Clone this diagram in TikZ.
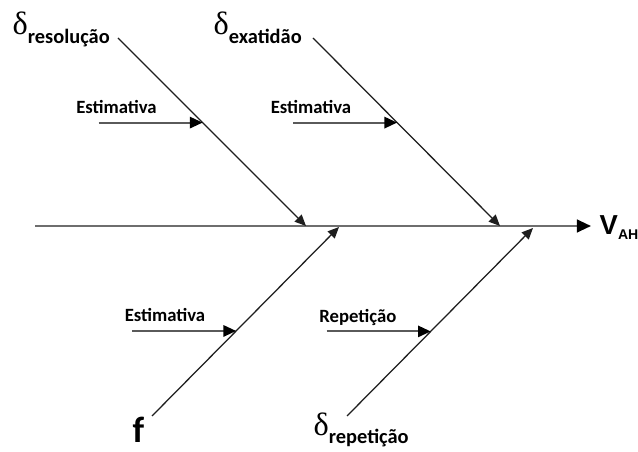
\documentclass[tikz,border=0pt]{standalone}
\usepackage{fontspec}
\setmainfont{Carlito}
\newfontfamily\greekfont{Liberation Serif}
\newfontfamily\arialfont{Liberation Sans}
\usetikzlibrary{arrows.meta, positioning}
\definecolor{cspine}{HTML}{6E6E6E}
\definecolor{cfeed}{HTML}{5A5A5A}
\definecolor{cbone}{HTML}{1E1E1E}
\tikzset{
  every picture/.style={line width=1pt},
  bone/.style={draw=cbone, line width=0.9pt, -{Triangle[length=8pt, width=7pt]}},
  feed/.style={draw=cfeed, line width=1.4pt, -{Triangle[length=9pt, width=8pt, color=black, fill=black]}},
  spine/.style={draw=cspine, line width=1.6pt, -{Triangle[length=10pt, width=9pt, color=black, fill=black]}},
  cause/.style={inner sep=0pt, anchor=base west},
  small/.style={font=\fontsize{13.3}{13.3}\selectfont\bfseries, inner sep=0pt, anchor=base west},
}
\newcommand{\dsub}[1]{{\greekfont\fontsize{23}{23}\selectfont δ}\raisebox{-5.7pt}{\fontsize{14.5}{14.5}\selectfont\bfseries #1}}

\begin{document}
\begin{tikzpicture}[x=0.025cm, y=-0.025cm]
  \useasboundingbox (0,0) rectangle (638,452);
  % spine
  \coordinate (sp) at (35,226);
  \coordinate (tip) at (591,226);
  \node[inner sep=0pt, anchor=base west] (vah) at (599,235)
    {\arialfont\bfseries\fontsize{19.5}{19.5}\selectfont V\raisebox{-3.5pt}{\fontsize{10}{10}\selectfont AH}};
  \draw[spine] (sp) -- (tip);
  % causes
  \node[cause] (dres) at (12,35) {\dsub{resolução}};
  \node[cause] (dexa) at (213,35) {\dsub{exatidão}};
  \node[inner sep=0pt, anchor=base west, font=\fontsize{26}{26}\selectfont\bfseries] (ff) at (132,442) {f};
  \node[cause] (drep) at (313,435) {\dsub{repetição}};
  \coordinate (r0) at (118,38);   \coordinate (r1) at (306,226);
  \coordinate (e0) at (313,38);   \coordinate (e1) at (500,226);
  \coordinate (f0) at (152,416);  \coordinate (f1) at (339,227);
  \coordinate (p0) at (347,416);  \coordinate (p1) at (533,228);
  \draw[bone] (r0) -- coordinate[pos=0.45] (mr) (r1);
  \draw[bone] (e0) -- coordinate[pos=0.45] (me) (e1);
  \draw[bone] (f0) -- coordinate[pos=0.45] (mf) (f1);
  \draw[bone] (p0) -- coordinate[pos=0.45] (mp) (p1);
  % sub-causes
  \foreach \m/\t/\dx in {mr/Estimativa/-23, me/Estimativa/-23, mf/Estimativa/-8, mp/Repetição/-8} {
    \path (\m) ++(-104,0) coordinate (s\m);
    \draw[feed] (s\m) -- (\m);
    \node[small] (l\m) at ([shift={(\dx,-9)}]s\m) {\t};
  }
\end{tikzpicture}
\end{document}
